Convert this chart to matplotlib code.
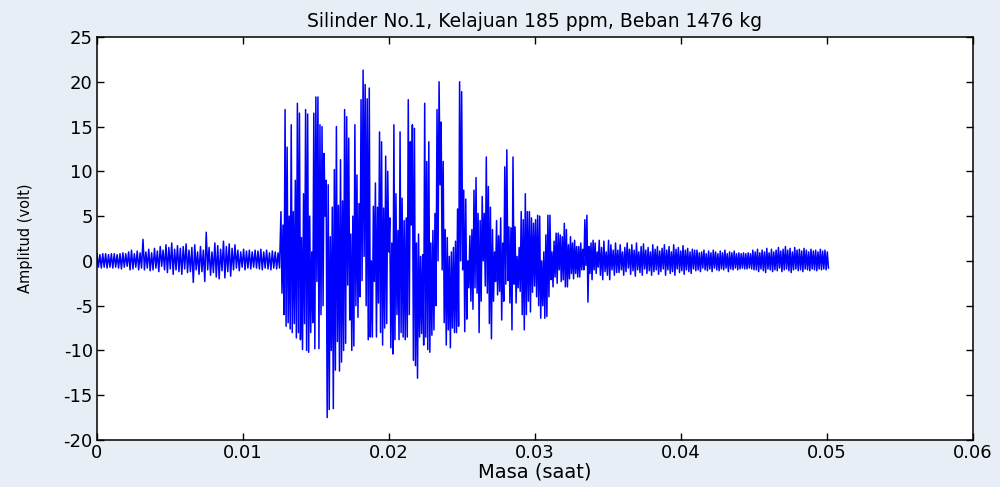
import numpy as np
import matplotlib
matplotlib.use("Agg")
import matplotlib.pyplot as plt

plt.rcParams['font.family'] = ['DejaVu Sans']
plt.rcParams['axes.unicode_minus'] = False

# peak (hi) / trough (lo) pairs, segment by segment
quiet_hi = [0.8, 0.7, 0.8, 0.8, 0.7, 0.8, 0.8, 0.7, 0.8, 0.9, 0.8, 1.0, 1.2, 0.8, 1.1, 0.9,
            2.4, 1.0, 1.3, 0.9, 1.4, 1.1, 1.6, 1.2, 1.8, 1.5, 2.0, 1.3, 1.7, 1.4, 1.6, 1.9,
            1.2, 1.5, 1.8, 1.0, 1.6, 1.2, 3.2, 1.5, 1.0, 2.0, 1.7, 1.3, 2.2, 1.6, 1.9, 1.4,
            1.8, 1.2, 1.0, 1.3, 1.1, 1.2, 1.0, 1.2, 1.1, 1.3, 1.0, 1.2, 0.9, 1.1, 1.0, 0.9]
quiet_lo = [-0.7, -0.8, -0.7, -0.8, -0.7, -0.8, -0.7, -0.8, -0.9, -0.7, -0.6, -1.0, -0.9, -0.7, -1.0, -0.8,
            -1.0, -0.8, -1.1, -1.0, -0.8, -1.2, -0.6, -1.0, -1.3, -0.9, -1.5, -1.0, -1.2, -1.5, -0.9, -1.3,
            -1.2, -2.4, -1.0, -1.5, -1.2, -2.3, -1.0, -1.6, -1.3, -1.8, -2.0, -1.1, -1.9, -1.2, -1.7, -1.0,
            -0.8, -1.1, -0.7, -1.0, -0.8, -0.9, -0.7, -0.8, -0.9, -1.0, -0.8, -0.9, -1.0, -0.8, -0.9, -0.8]

burst_hi = [5.5, 4.0, 16.9, 12.7, 5.0, 15.2, 5.5, 9.0, 17.6, 16.5, 2.6, 7.5, 16.9, 16.4, 5.0,
            1.0, 16.5, 18.3, 18.3, 15.2, 15.0, 12.0, 9.0, 8.5, 2.7, 6.0, 10.2, 15.0, 6.2, 11.3,
            6.7, 16.9, 16.1, 13.7, 3.0, 5.0, 15.2, 9.6, 6.4, 18.0, 21.3, 19.7, 18.1, 19.3, 0.0,
            6.1, 8.7, 6.0, 14.4, 13.3, 5.9, 11.7, 10.0, 4.8, 2.0, 15.2, 7.5, 3.4, 14.4, 7.0,
            4.5, 4.8, 18.0, 13.3, 15.2, 14.8, 2.0, 3.0, 0.5, 0.7, 17.6, 11.1, 13.3, 2.0, 3.4,
            5.3, 16.9, 20.0, 15.5, 11.1, 3.5, 2.6, 0.5, 1.0, 1.5, 2.2, 5.8, 20.0, 18.9, 7.9,
            6.9, 0.0, 2.8, 3.5, 7.9, 9.3, 5.3, 4.5, 7.2, 5.3, 11.6, 8.3, 6.0, 3.5, 1.0,
            4.5, 2.8, 4.8, 2.0, 10.5, 12.4, 3.8, 3.7, 11.6, 3.8, 0.5, 1.5, 5.5, 4.6, 7.5,
            5.5, 5.5, 4.8, 4.2, 4.6, 5.1, 5.0, 0.0, 1.0, 2.9, 5.1, 5.1, 1.0, 2.2, 3.1,
            3.1, 2.9, 2.7, 4.2, 3.5, 1.8, 2.7, 2.0, 2.3, 1.6, 1.6, 2.0, 1.3, 4.6, 5.1,
            1.6, 2.0, 2.3, 2.0, 1.0]
burst_lo = [-3.6, -6.0, -7.3, -6.9, -7.6, -8.0, -7.0, -8.6, -8.0, -8.8, -9.9, -7.0, -10.0, -10.2, -8.0,
            -6.9, -9.8, -2.3, -9.8, -6.0, -5.0, 5.0, -17.5, -16.6, -10.0, -16.5, -12.2, -9.0, -12.3, -11.3,
            -10.0, -9.2, -2.7, -6.6, -10.0, -9.5, -5.0, -6.3, -4.0, -2.2, 0.5, -5.0, -8.8, -8.5, -8.5,
            -2.3, -8.5, -4.7, -8.0, -9.4, -7.5, -7.0, 1.0, -9.7, -10.4, -8.8, -6.0, -8.8, -8.0, -8.5,
            -8.8, -8.5, -6.0, 4.0, -11.1, -11.7, -13.1, -8.5, -8.1, -9.4, -8.5, -9.9, -10.2, -8.3, -7.7,
            -5.0, 0.0, 8.5, -1.0, -6.9, -9.4, -7.7, -9.7, -7.5, -8.0, -8.0, -7.3, 0.0, -1.0, -7.9,
            -6.5, -3.0, -4.5, -5.4, -3.0, -3.6, -8.0, -4.5, 0.0, -2.8, -3.6, -7.0, -8.7, -4.5, -2.3,
            -3.8, -3.4, -6.6, -4.5, -2.6, -2.2, -4.7, -7.7, -2.6, -4.7, -3.0, -3.4, -6.0, -7.7, -6.0,
            -4.5, -5.7, -3.5, -2.8, -4.0, -5.0, -6.4, -5.0, -6.4, -6.2, -4.0, -2.1, -2.9, -1.8, -2.5,
            -1.0, -2.3, -2.1, -2.9, -2.9, -2.0, -1.4, -2.0, -1.4, -1.8, -1.8, -1.0, -1.0, -0.5, -4.6,
            -1.4, -2.1, -1.0, -1.4, -0.7]

tail_hi = [2.3, 1.5, 2.2, 1.0, 2.3, 1.8, 1.2, 2.0,
           1.2, 1.8, 1.0, 1.5, 2.0, 1.3, 1.8, 1.2, 2.0, 1.0, 1.6, 1.9, 1.2, 1.5, 1.0, 1.8, 1.3, 1.6, 1.1, 1.4,
           1.8, 1.2, 1.6, 1.0, 1.8, 1.3, 1.5, 1.1, 1.7, 1.2, 1.4, 1.0, 1.3, 1.2,
           1.2, 0.9, 1.0, 1.2, 0.8, 1.1, 0.9, 1.2, 1.0, 0.8, 1.1, 0.9, 1.2, 0.8, 1.0, 0.9, 1.1, 0.8,
           0.9, 0.8, 0.9, 0.8, 0.9, 0.8, 1.2,
           1.0, 1.3, 0.9, 1.2, 1.0, 1.4, 0.9, 1.3, 1.0, 1.2, 1.5, 1.1, 1.3, 1.6, 1.2, 1.4,
           1.0, 1.5, 1.2, 1.3, 1.1, 1.4, 1.2, 1.0, 1.3, 1.1, 1.2, 1.0, 1.3, 1.1, 1.2, 1.0]
tail_lo = [-1.6, -2.1, -1.2, -1.6, -2.1, -1.0, -1.6, -1.3,
           -1.3, -1.0, -1.6, -1.2, -0.8, -1.5, -1.1, -1.7, -1.0, -1.3, -1.6, -0.9, -1.4, -1.1, -1.6, -1.2, -1.0, -1.5, -1.2, -0.9,
           -1.6, -1.0, -1.4, -1.2, -1.6, -0.9, -1.3, -1.1, -1.5, -1.0, -1.2, -1.4, -0.9, -1.1,
           -1.0, -1.2, -0.8, -1.0, -1.1, -0.9, -1.2, -0.8, -1.0, -1.1, -0.9, -1.0, -0.8, -1.2, -0.9, -1.0, -0.8, -1.0,
           -0.9, -0.8, -0.9, -0.9, -0.8, -0.9, -1.0,
           -1.0, -1.2, -0.9, -1.1, -1.3, -0.9, -1.0, -1.2, -1.0, -1.1, -0.8, -1.2, -1.0, -0.9, -1.1, -1.3,
           -1.0, -0.9, -1.1, -1.0, -1.2, -0.9, -1.0, -1.1, -0.9, -1.0, -1.1, -0.9, -1.0, -0.9, -1.0, -0.8]

# segment time limits (s)
seg_t = [0.0, 0.0126, 0.0344, 0.0501]


def interleave(hi, lo):
    return np.column_stack([hi, lo]).ravel()


parts = [interleave(quiet_hi, quiet_lo), interleave(burst_hi, burst_lo), interleave(tail_hi, tail_lo)]
ts, ys = [], []
for i, p in enumerate(parts):
    last = i == len(parts) - 1
    ts.append(np.linspace(seg_t[i], seg_t[i + 1], len(p), endpoint=last))
    ys.append(p)
t = np.concatenate(ts)
y = np.concatenate(ys)

fig = plt.figure(figsize=(10, 4.87), dpi=100, facecolor='#e7eef5')
ax = fig.add_axes([0.097, 0.0965, 0.876, 0.8275])
ax.set_facecolor('white')
ax.plot(t, y, color='#0000ff', lw=1.1)

ax.set_xlim(0, 0.06)
ax.set_ylim(-20, 25)
ax.set_xticks([0, 0.01, 0.02, 0.03, 0.04, 0.05, 0.06])
ax.set_xticklabels(['0', '0.01', '0.02', '0.03', '0.04', '0.05', '0.06'])
ax.set_yticks(range(-20, 26, 5))
ax.tick_params(direction='in', top=True, right=True, length=5, width=1,
               labelsize=13, colors='black', pad=3)
for s in ax.spines.values():
    s.set_linewidth(1.1)

ax.set_title('Silinder No.1, Kelajuan 185 ppm, Beban 1476 kg', fontsize=13.5, pad=7)
ax.set_xlabel('Masa (saat)', fontsize=14, labelpad=0)
ax.set_ylabel('Amplitud (volt)', fontsize=10.5, labelpad=22)

fig.savefig('out.png', dpi=100, facecolor=fig.get_facecolor())
